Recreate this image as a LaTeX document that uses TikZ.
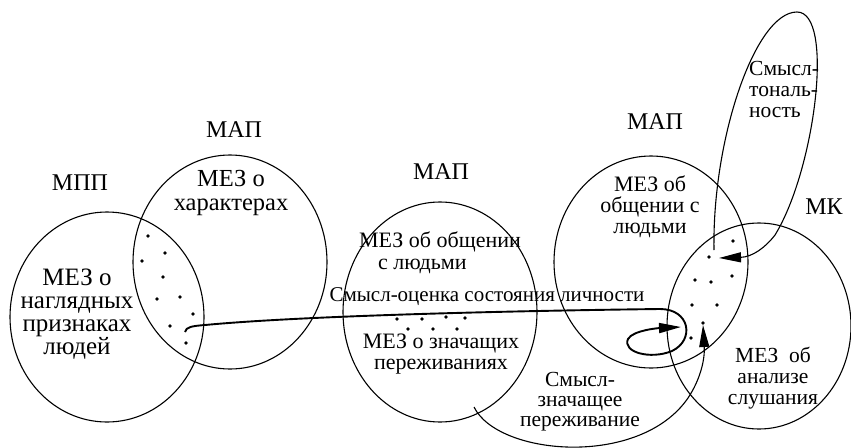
\documentclass[tikz,border=0pt]{standalone}
\usepackage{fontspec}
\setmainfont{Liberation Serif}
\usetikzlibrary{arrows.meta}
\begin{document}
\begin{tikzpicture}[x=1pt,y=-1pt,
  ring/.style={line width=1.1pt},
  lbl/.style={font=\fontsize{22}{22}\selectfont, align=center, inner sep=0pt},
  caplbl/.style={font=\fontsize{24}{24}\selectfont, inner sep=0pt},
  dot/.style={circle, fill, inner sep=0pt, minimum size=3.6pt},
  flow/.style={line width=1.9pt},
  thin/.style={line width=1.1pt},
  bigtip/.style={-{Triangle[length=22pt,width=10pt]}}]
\useasboundingbox (0,0) rectangle (851,447);

% circles
\draw[ring] (107,317) ellipse [x radius=97, y radius=105];
\draw[ring] (230,262) ellipse [x radius=97, y radius=107];
\draw[ring] (440,312) ellipse [x radius=97, y radius=110];
\draw[ring] (651,262) ellipse [x radius=97, y radius=106];
\draw[ring] (759,326) ellipse [x radius=92, y radius=103];

% labels
\node[caplbl] (mpp) at (80,183) {МПП};
\node[caplbl] (mapA) at (234,130) {МАП};
\node[lbl, font=\fontsize{24.5}{24}\selectfont] (charT) at (231,193) {МЕЗ о\\характерах};
\node[lbl, font=\fontsize{25}{22.8}\selectfont] (vis) at (77,314) {МЕЗ о\\наглядных\\признаках\\людей};
\node[caplbl] (mapB) at (441,172) {МАП};
\node[lbl, align=left] (obsh) at (440,253) {МЕЗ об общении\\\hspace*{19pt}с людьми};
\node[lbl, font=\fontsize{21}{21}\selectfont] (sense) at (487,297) {Смысл-оценка состояния личности};
\node[lbl, font=\fontsize{22}{21}\selectfont] (znach) at (441,354) {МЕЗ о значащих\\переживаниях};
\node[lbl, font=\fontsize{21.5}{20}\selectfont] (sz) at (580,402) {Смысл-\\значащее\\переживание};
\node[caplbl] (mapC) at (655,122) {МАП};
\node[lbl, font=\fontsize{22}{21}\selectfont] (obshC) at (650,207) {МЕЗ об\\общении с\\людьми};
\node[caplbl] (mk) at (824,207) {МК};
\node[lbl, align=left, anchor=west, font=\fontsize{21.5}{21}\selectfont] (ton) at (749,89) {Смысл-\\тональ-\\ность};
\node[lbl, font=\fontsize{21.5}{21}\selectfont] (anal) at (773,378) {МЕЗ\ \ об\\анализе\\слушания};

% dots
\foreach \p [count=\i] in {(148,236),(165,253),(142,261),(163,277),(157,299),(180,297),(193,314),(170,326),(186,343)}
  \node[dot] (l\i) at \p {};
\foreach \p [count=\i] in {(397,319),(422,319),(446,317),(465,318),(408,329),(433,329),(457,329)}
  \node[dot] (m\i) at \p {};
\foreach \p [count=\i] in {(733,241),(709,257),(695,280),(711,282),(732,276),(692,305),(717,305),(703,323),(691,338)}
  \node[dot] (r\i) at \p {};

% connector ends
\coordinate (hook) at (185,332);
\coordinate (spiralEnd) at (681,327);
\coordinate (tonStart) at (714,250);
\coordinate (tonEnd) at (719,258);
\coordinate (szStart) at (474,407);

% main sense line with spiral
\draw[flow, bigtip] (hook) .. controls (186,327) and (192,326) .. (205,325)
  .. controls (300,316) and (500,311) .. (660,309)
  .. controls (690,309) and (695,340) .. (672,351)
  .. controls (650,360) and (622,352) .. (628,339)
  .. controls (633,330) and (660,328) .. (spiralEnd);

% tonality loop
\draw[thin, bigtip] (tonStart) .. controls (712,140) and (755,12) .. (797,12)
  .. controls (835,12) and (815,170) .. (775,235)
  .. controls (765,248) and (752,257) .. (tonEnd);

% significant experience arc
\draw[thin, bigtip] (szStart) .. controls (498,456) and (640,468) .. (688,398)
  .. controls (700,380) and (705,360) .. (r8.south);
\end{tikzpicture}
\end{document}
